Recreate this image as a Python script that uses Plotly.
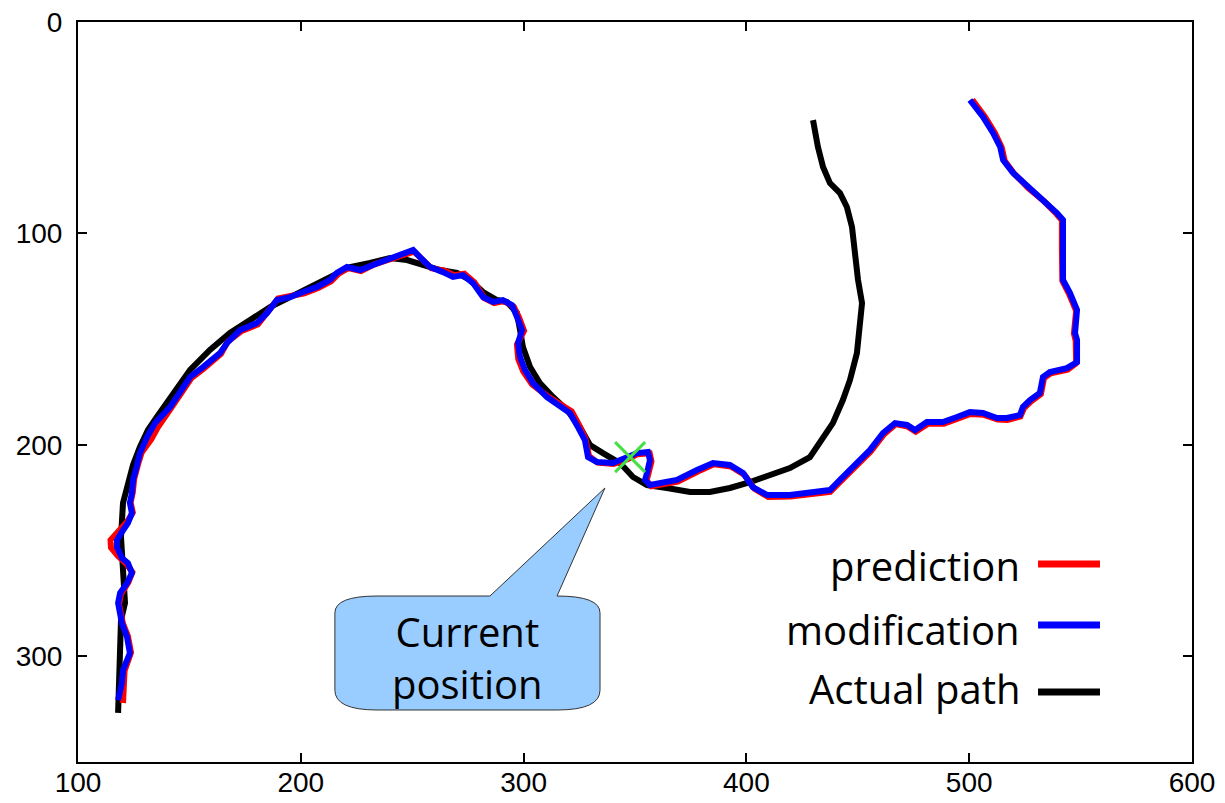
import plotly.graph_objects as go

# ---- path data (x, y in field units; y grows downward) ----
actual_x = [118.0, 118.4, 118.9, 119.3, 121.1, 120.2, 119.3, 120.2, 122.4, 124.7, 127.8, 131.4,
            135.4, 139.9, 144.4, 150.3, 159.2, 168.2, 177.2, 186.2, 195.2, 204.1, 213.1, 222.1,
            231.1, 240.0, 247.7, 254.8, 262.5, 270.1, 275.9, 281.8, 288.0, 292.5, 297.0, 298.4,
            299.7, 302.9, 307.3, 313.2, 319.5, 325.3, 329.8, 335.6, 343.3, 349.1, 355.4, 364.3,
            374.7, 383.6, 392.6, 401.6, 410.6, 419.5, 428.5, 433.0, 438.8, 443.3, 446.5, 449.6,
            451.0, 451.9, 450.1, 448.7, 447.4, 445.1, 442.0, 437.5, 434.4, 432.1, 429.9]
actual_y = [326.8, 311.3, 297.0, 282.9, 274.8, 259.2, 243.6, 227.5, 219.0, 209.5, 201.0, 193.0,
            186.8, 180.2, 174.1, 164.6, 155.1, 147.1, 141.0, 134.8, 130.1, 125.3, 120.6, 115.9,
            114.0, 111.6, 112.6, 114.9, 117.3, 118.7, 122.0, 127.7, 131.5, 132.4, 137.6, 145.7,
            153.7, 163.2, 170.8, 177.4, 183.5, 191.6, 200.1, 203.9, 208.6, 215.2, 219.0, 220.4,
            222.3, 222.3, 220.4, 217.6, 214.3, 211.0, 205.8, 199.1, 189.7, 178.8, 169.3, 156.6,
            144.3, 132.9, 122.0, 109.3, 97.0, 87.5, 80.9, 76.2, 68.6, 59.1, 46.4]

prediction_x = [120.2, 120.6, 120.9, 123.8, 122.4, 120.2, 118.4, 119.3, 122.6, 124.4, 121.8, 117.8,
                114.8, 114.6, 118.4, 122.0, 124.6, 123.6, 124.6, 125.2, 127.0, 128.6, 133.0, 136.0,
                141.8, 147.6, 150.9, 156.4, 164.2, 167.2, 173.2, 180.8, 185.4, 189.8, 195.4, 201.6,
                207.8, 213.6, 216.8, 221.2, 227.0, 233.0, 240.6, 246.4, 250.8, 254.0, 258.6, 264.4,
                268.8, 273.4, 278.0, 282.4, 286.8, 291.2, 295.6, 298.0, 300.2, 297.0, 297.6, 299.8,
                303.8, 310.8, 316.8, 321.6, 325.0, 327.8, 329.4, 333.2, 340.4, 346.6, 351.2, 356.6,
                357.4, 356.0, 355.2, 357.4, 361.8, 369.2, 378.2, 385.4, 393.0, 399.2, 403.6, 409.8,
                419.8, 432.0, 437.6, 442.2, 449.8, 455.8, 461.8, 467.0, 472.4, 476.0, 481.6, 488.6,
                494.8, 500.6, 506.6, 512.8, 517.2, 523.0, 524.6, 527.8, 532.2, 533.6, 536.6, 544.2,
                548.0, 547.8, 547.0, 548.0, 544.8, 541.8, 541.6, 541.6, 539.2, 533.6, 526.6, 520.4,
                516.0, 514.6, 511.6, 507.2, 501.4]
prediction_y = [322.1, 313.5, 306.8, 298.2, 290.4, 284.6, 275.3, 270.6, 265.0, 260.2, 256.4, 252.4,
                248.6, 245.0, 240.6, 236.4, 232.0, 227.2, 222.4, 216.2, 209.0, 203.6, 197.2, 191.4,
                182.6, 173.0, 168.4, 164.0, 157.0, 151.2, 146.3, 143.0, 137.2, 130.8, 129.6, 128.4,
                125.8, 122.6, 119.2, 116.4, 117.8, 114.6, 112.0, 110.0, 108.6, 111.8, 116.4, 117.6,
                119.8, 119.0, 123.2, 130.6, 133.0, 132.0, 134.6, 139.8, 146.0, 152.6, 159.4, 165.2,
                171.4, 177.0, 181.4, 184.2, 190.8, 197.2, 205.4, 208.4, 209.0, 206.8, 204.4, 204.0,
                207.8, 213.6, 217.0, 219.6, 218.8, 217.4, 212.6, 209.2, 210.2, 214.2, 220.8, 224.6,
                224.4, 223.2, 222.2, 217.4, 209.4, 203.2, 195.0, 190.2, 191.4, 193.8, 190.0, 190.0,
                187.6, 185.4, 185.8, 188.0, 188.2, 186.6, 182.6, 179.4, 176.0, 168.4, 166.2, 164.4,
                161.4, 150.8, 147.4, 136.6, 128.6, 122.4, 106.6, 93.8, 90.8, 84.8, 78.6, 72.0,
                65.8, 59.4, 52.6, 45.0, 36.8]

modification_x = [118.0, 119.7, 120.2, 123.3, 122.0, 119.7, 118.0, 118.9, 122.0, 124.2, 122.4, 119.7,
                  117.5, 117.5, 119.7, 122.4, 124.2, 123.3, 124.2, 124.7, 126.5, 127.8, 131.0, 134.6,
                  141.3, 147.1, 150.3, 156.1, 163.7, 166.9, 172.7, 180.3, 184.8, 189.3, 195.2, 201.0,
                  207.3, 213.1, 216.2, 220.7, 226.6, 232.4, 240.0, 245.9, 250.4, 253.5, 258.0, 263.8,
                  268.3, 272.8, 277.3, 281.8, 286.3, 290.7, 294.8, 297.0, 299.3, 297.5, 298.4, 300.6,
                  304.2, 310.5, 316.3, 320.8, 324.4, 327.5, 328.9, 332.9, 340.1, 346.4, 350.9, 355.8,
                  356.7, 355.4, 354.5, 356.7, 361.2, 368.8, 377.8, 385.0, 392.6, 398.5, 402.9, 409.2,
                  419.5, 431.7, 437.5, 442.0, 449.6, 455.5, 461.3, 466.7, 472.1, 475.7, 481.0, 488.2,
                  494.5, 500.3, 506.2, 512.5, 516.9, 522.8, 524.1, 527.3, 531.7, 533.1, 536.2, 543.8,
                  548.4, 548.4, 547.5, 548.4, 545.2, 542.1, 542.1, 542.1, 539.4, 533.1, 526.0, 519.7,
                  515.2, 513.9, 510.7, 506.2, 500.3]
modification_y = [320.7, 312.7, 306.5, 298.5, 290.9, 284.3, 274.8, 270.1, 265.4, 260.6, 255.9, 253.5,
                  248.3, 245.0, 241.2, 237.0, 232.3, 227.5, 222.8, 216.6, 209.5, 203.9, 196.3, 189.7,
                  182.1, 172.7, 167.9, 163.2, 156.6, 151.8, 145.7, 142.4, 137.7, 131.5, 130.1, 127.7,
                  125.3, 122.0, 118.7, 115.9, 117.3, 114.9, 111.6, 109.3, 107.8, 111.2, 115.9, 118.3,
                  120.6, 119.7, 123.5, 130.1, 132.4, 131.5, 133.9, 139.5, 145.7, 151.8, 158.5, 164.6,
                  170.8, 177.4, 182.1, 185.0, 191.6, 197.7, 205.8, 208.1, 208.6, 206.2, 203.9, 203.4,
                  207.2, 213.3, 216.6, 219.0, 218.1, 216.6, 211.9, 208.6, 209.5, 213.3, 220.0, 223.7,
                  223.7, 222.3, 221.4, 216.6, 208.6, 202.4, 194.4, 189.7, 190.6, 193.0, 189.2, 189.2,
                  186.8, 184.5, 184.9, 187.3, 187.3, 185.9, 182.1, 178.8, 175.5, 167.9, 165.6, 163.7,
                  160.8, 150.4, 147.1, 136.2, 128.1, 122.0, 106.4, 93.6, 90.4, 84.2, 78.1, 71.4,
                  65.3, 59.1, 52.5, 44.9, 36.9]

current_pos = (347.8, 205.8)

x_ticks = [100, 200, 300, 400, 500, 600]
y_ticks = [0, 100, 200, 300]

legend_labels = ["prediction", "modification", "Actual path"]
legend_colors = ["#ff0000", "#0000ff", "#000000"]

fig = go.Figure()

fig.add_trace(go.Scatter(x=actual_x, y=actual_y, mode="lines",
                         line=dict(color="#000000", width=6), showlegend=False))
fig.add_trace(go.Scatter(x=prediction_x, y=prediction_y, mode="lines",
                         line=dict(color="#ff0000", width=6), showlegend=False))
fig.add_trace(go.Scatter(x=modification_x, y=modification_y, mode="lines",
                         line=dict(color="#0000ff", width=6), showlegend=False))
fig.add_trace(go.Scatter(x=[current_pos[0]], y=[current_pos[1]], mode="markers",
                         marker=dict(symbol="x-thin", size=30,
                                     line=dict(color="#44e044", width=3)),
                         showlegend=False))

# callout balloon pointing at the current position
balloon = ("M 234.2,271.5 L 284.9,271.5 L 336.5,220.4 L 315.0,271.5 "
           "Q 334.3,271.5 334.3,279.5 L 334.3,316.0 Q 334.3,325.4 315.0,325.4 "
           "L 234.2,325.4 Q 215.3,325.4 215.3,316.0 L 215.3,279.5 "
           "Q 215.3,271.5 234.2,271.5 Z")
fig.add_shape(type="path", path=balloon, xref="x", yref="y",
              fillcolor="#99ccff", line=dict(color="#333333", width=1), layer="above")
fig.add_annotation(x=274.6, y=300.8, xref="x", yref="y", text="Current<br>position",
                   showarrow=False, font=dict(family="Open Sans", size=40, color="#000000"),
                   xanchor="center", yanchor="middle")

# legend: label on the left, sample line on the right
legend_rows_y = [0.2662, 0.1784, 0.100]
legend_line_y = [0.2676, 0.1851, 0.0946]
for label, color, ty, ly in zip(legend_labels, legend_colors, legend_rows_y, legend_line_y):
    fig.add_annotation(x=0.847, y=ty, xref="paper", yref="paper", text=label,
                       showarrow=False, xanchor="right", yanchor="middle",
                       font=dict(family="Open Sans", size=40, color="#000000"))
    fig.add_shape(type="line", xref="paper", yref="paper", x0=0.8618, x1=0.9174,
                  y0=ly, y1=ly, line=dict(color=color, width=7))

axis_common = dict(showline=True, linecolor="#000000", linewidth=2, mirror="allticks",
                   ticks="inside", ticklen=9, tickwidth=2, tickcolor="#000000",
                   showgrid=False, zeroline=False, automargin=False,
                   tickfont=dict(family="Liberation Sans", size=28, color="#000000"))

fig.update_layout(
    width=1225, height=803,
    margin=dict(l=78, r=33, t=22, b=41),
    paper_bgcolor="#ffffff", plot_bgcolor="#ffffff",
    xaxis=dict(range=[100, 600], tickvals=x_ticks, ticklabelstandoff=-6, **axis_common),
    yaxis=dict(range=[350, 0], tickvals=y_ticks, ticklabelstandoff=8, **axis_common),
)

fig.write_html("out.html")
